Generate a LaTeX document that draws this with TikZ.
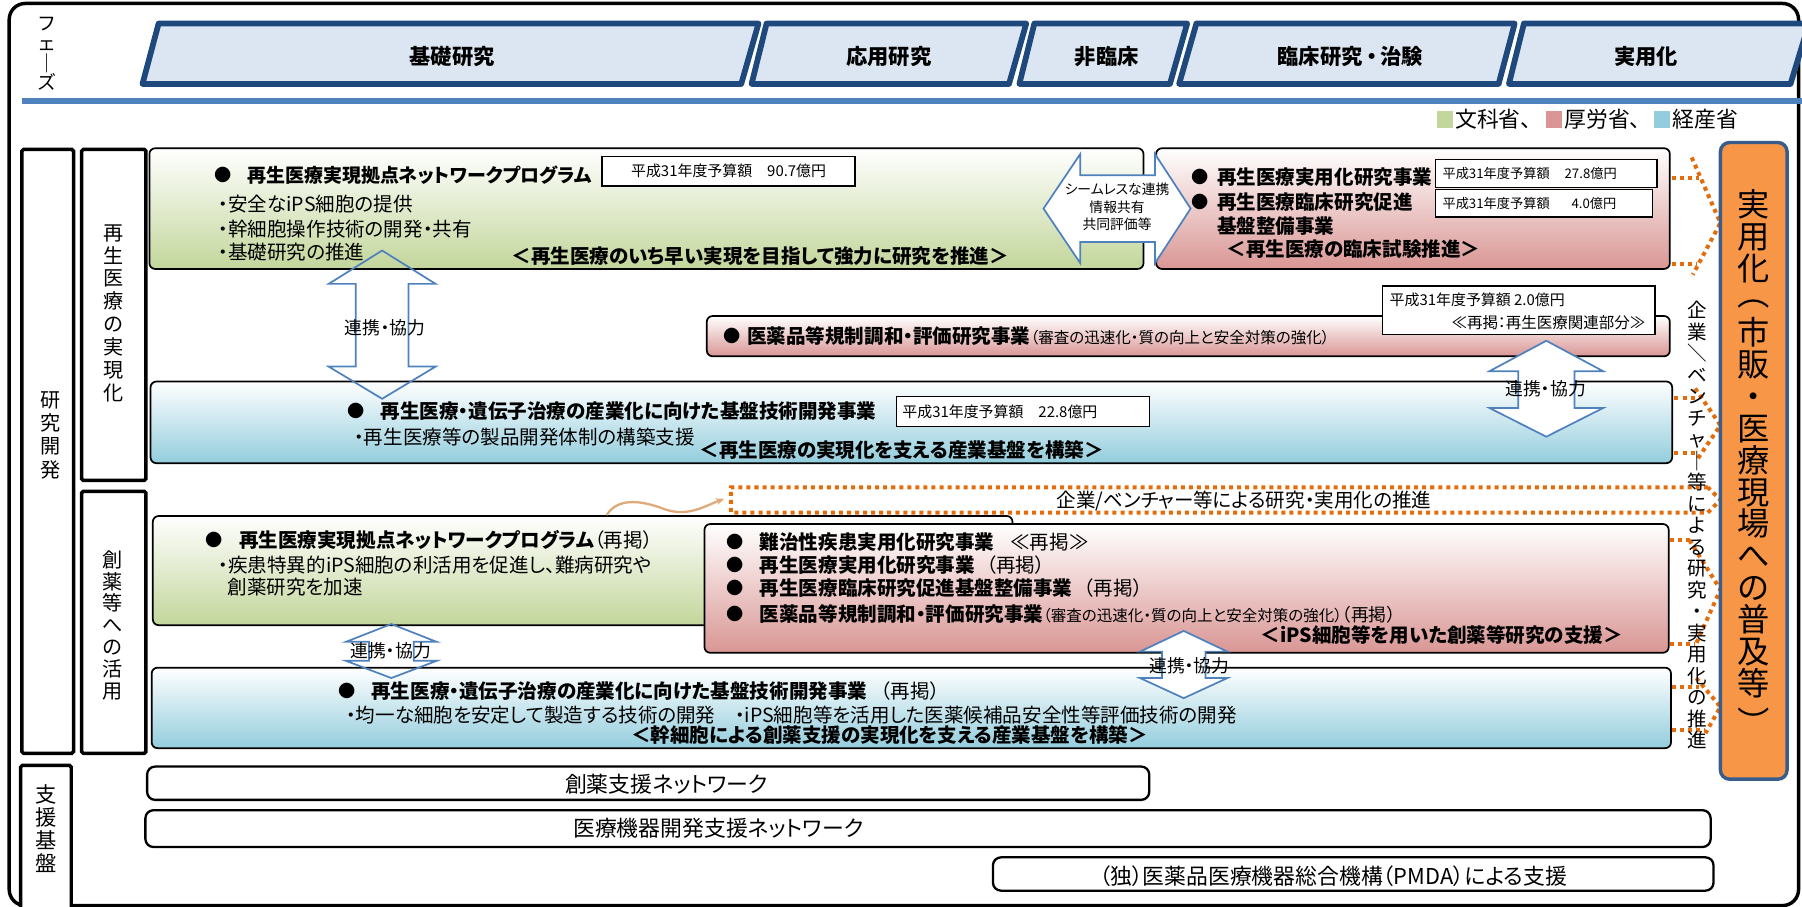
\documentclass[tikz,border=0pt]{standalone}
\usepackage{fontspec}
\usepackage{graphicx}
\setmainfont{Noto Sans CJK JP}[RawFeature=+palt]
\usetikzlibrary{arrows.meta}
\definecolor{phasefill}{HTML}{DCE6F2}
\definecolor{phasedraw}{HTML}{1F497D}
\definecolor{lineblue}{HTML}{4F81BD}
\definecolor{mgreen}{HTML}{C3D69B}
\definecolor{mred}{HTML}{D99694}
\definecolor{mblue}{HTML}{93CDDD}
\definecolor{morange}{HTML}{F79646}
\definecolor{dotorange}{HTML}{E46C0A}
\definecolor{oborder}{HTML}{385D8A}
\definecolor{ribboncol}{HTML}{DFA97A}
\newcommand\fsz[2]{\fontsize{#1}{#2}\selectfont}
\newcommand\vparl{\rotatebox[origin=c]{-90}{（}}
\newcommand\vparr{\rotatebox[origin=c]{-90}{）}}
\newcommand\bxn[6]{\node[#1, inner sep=0pt, minimum width={(#5-#3)*1pt}, minimum height={(#6-#4)*1pt}] (#2) at ({(#3+#5)/2},{(#4+#6)/2}) {};}
\newcommand\vdar[8]{\draw[#1] (#2,#3) -- ({#2+#5},#4) -- ({#2+#6},#4) -- ({#2+#6},#7) -- ({#2+#5},#7) -- (#2,#8) -- ({#2-#5},#7) -- ({#2-#6},#7) -- ({#2-#6},#4) -- ({#2-#5},#4) -- cycle;}
\begin{document}
\begin{tikzpicture}[x=1pt,y=-1pt,
  box/.style={draw=black, line width=1.5pt, rounded corners=5pt},
  gbox/.style={box, top color=white, bottom color=mgreen},
  rbox/.style={box, top color=white, bottom color=mred},
  bbox/.style={box, top color=white, bottom color=mblue},
  budget/.style={draw=black, line width=1.3pt, fill=white},
  support/.style={draw=black, line width=2pt, rounded corners=7pt, fill=white},
  col/.style={draw=black, line width=3pt, rounded corners=1.5pt, fill=white},
  obox/.style={draw=oborder, fill=morange, line width=3pt, rounded corners=8pt},
  phase/.style={draw=phasedraw, fill=phasefill, line width=5pt, line join=round},
  blk/.style={draw=lineblue, line width=1.5pt, line join=miter},
  blkw/.style={blk, fill=white},
  dotline/.style={draw=dotorange, line width=3.5pt, dash pattern=on 3.5pt off 3.5pt},
  txt/.style={inner sep=0pt, anchor=west},
  etxt/.style={inner sep=0pt, anchor=east},
  ctxt/.style={inner sep=0pt},
  bul/.style={inner sep=0pt, font=\fsz{15}{15}},
  tb/.style={font=\fsz{17}{17}\bfseries},
  tr/.style={font=\fsz{17}{17}},
]
\useasboundingbox (0,0) rectangle (1568,789);
% outer frame
\draw[line width=3pt, rounded corners=14pt] (8,3) rectangle (1565,788);
% phases
\draw[phase] (138,20.5) -- (660,20.5) -- (645,73) -- (124,73) -- cycle;
\draw[phase] (667,20.5) -- (893,20.5) -- (878,73) -- (654,73) -- cycle;
\draw[phase] (900,20.5) -- (1033,20.5) -- (1018,73) -- (887,73) -- cycle;
\draw[phase] (1041,20.5) -- (1318,20.5) -- (1304,73) -- (1026,73) -- cycle;
\draw[phase] (1326,20.5) -- (1574,20.5) -- (1558,73) -- (1313,73) -- cycle;
\node[ctxt, font=\fsz{18.5}{18.5}\bfseries] (p1) at (393.5,49) {基礎研究};
\node[ctxt, font=\fsz{18.5}{18.5}\bfseries] (p2) at (773.5,49) {応用研究};
\node[ctxt, font=\fsz{18.5}{18.5}\bfseries] (p3) at (963,49) {非臨床};
\node[ctxt, font=\fsz{18.5}{18.5}\bfseries] (p4) at (1175,49) {臨床研究\,・\,治験};
\node[ctxt, font=\fsz{18.5}{18.5}\bfseries] (p5) at (1432.5,49) {実用化};
\draw[lineblue, line width=5pt] (19,88) -- (1568,88);
\node[ctxt, align=center, font=\fsz{16.5}{17}] (fz) at (41,47) {フ\\ェ\\｜\\ズ};
% legend
\fill[mgreen] (1250,97) rectangle (1264,111);
\node[txt, font=\fsz{19}{19}] (lg1) at (1266,104) {文科省、};
\fill[mred] (1345,97) rectangle (1359,111);
\node[txt, font=\fsz{19}{19}] (lg2) at (1361,104) {厚労省、};
\fill[mblue] (1439,97) rectangle (1453,111);
\node[txt, font=\fsz{19}{19}] (lg3) at (1455,104) {経産省};
% left columns
\bxn{col}{c1}{19}{130}{64}{655.5}
\bxn{col}{c2}{71}{130}{127}{418}
\bxn{col}{c3}{71}{427.5}{127}{655.5}
\bxn{col}{c4}{18}{666}{62}{800}
\node[ctxt, align=center, font=\fsz{17.5}{20.3}] (c1t) at (44,378.5) {研\\究\\開\\発};
\node[ctxt, align=center, font=\fsz{17.5}{19.9}] (c2t) at (99,272.5) {再\\生\\医\\療\\の\\実\\現\\化};
\node[ctxt, align=center, font=\fsz{17.5}{19}] (c3t) at (98,544) {創\\薬\\等\\へ\\の\\活\\用};
\node[ctxt, align=center, font=\fsz{18.5}{20}] (c4t) at (40,721) {支\\援\\基\\盤};
% main boxes
\bxn{gbox}{A}{130}{129}{995}{234}
\bxn{rbox}{B}{1006}{129}{1453}{234}
\bxn{rbox}{C}{615}{275}{1453}{310}
\bxn{bbox}{D}{131}{332}{1455}{403}
\bxn{gbox}{E}{133}{449}{881}{544}
\bxn{rbox}{F}{613}{456}{1452}{568}
\bxn{bbox}{G}{132}{581}{1454}{651}
% budget boxes
\bxn{budget}{bA}{524}{136}{744}{162}
\bxn{budget}{bB1}{1249}{139}{1442}{163}
\bxn{budget}{bB2}{1249}{165}{1438}{189}
\bxn{budget}{bC}{1203}{249}{1440}{291}
\bxn{budget}{bD}{780}{345}{1000}{371}
% support boxes
\bxn{support}{S1}{128}{667}{1000}{696}
\bxn{support}{S2}{126.5}{705}{1488.5}{737}
\bxn{support}{S3}{864}{746}{1491}{775}
% block arrows
\draw[blkw] (908,181.5) -- (940,134) -- (940,152.5) -- (1005,152.5) -- (1005,134) -- (1036,181.5) -- (1005,229) -- (1005,210.5) -- (940,210.5) -- (940,229) -- cycle;
\vdar{blk}{332.5}{218}{247}{46.5}{23}{319}{347}
\vdar{blkw}{1345.5}{296.5}{323}{49.5}{24.5}{355}{380}
\vdar{blk}{340.5}{543}{558.5}{39.5}{19.5}{575}{590}
\vdar{blkw}{1030}{549}{567}{38}{19}{590}{607.5}
\node[ctxt, align=center, font=\fsz{12}{15}] (sh) at (972,180) {シームレスな連携\\情報共有\\共同評価等};
\node[ctxt, font=\fsz{15.5}{15.5}] (r1) at (335,285.5) {連携・協力};
\node[ctxt, font=\fsz{15.5}{15.5}] (r2) at (1345,338) {連携・協力};
\node[ctxt, font=\fsz{15.5}{15.5}] (r3) at (340,566) {連携・協力};
\node[ctxt, font=\fsz{15.5}{15.5}] (r4) at (1035,579) {連携・協力};
% orange dotted connectors
\draw[dotline] (1486,424) -- (636,424) -- (636,446) -- (1486,446) -- (1497,435) -- cycle;
\draw[dotline] (1455,155) -- (1478,155);
\draw[dotline] (1455,230) -- (1477,230);
\draw[dotline] (1472,137) -- (1497,194) -- (1473,239);
\draw[dotline] (1457,346) -- (1478,346);
\draw[dotline] (1457,394) -- (1478,394);
\draw[dotline] (1475,338) -- (1497,370) -- (1476,401);
\draw[dotline] (1453,470) -- (1472,470);
\draw[dotline] (1453,560) -- (1475,560);
\draw[dotline] (1470,470) -- (1497,513) -- (1475,562);
\draw[dotline] (1455,597.5) -- (1478,597.5);
\draw[dotline] (1455,635) -- (1484,635);
\draw[dotline] (1476,590) -- (1497,615) -- (1484,638);
\draw[ribboncol, line width=2pt, -{Stealth[length=7pt,width=6pt]}] (528,448) .. controls (538,432) and (560,436) .. (578,443) .. controls (598,450) and (612,441) .. (630,434);
\node[ctxt, tr] (dt) at (1082.5,436) {企業/ベンチャー等による研究・実用化の推進};
% orange box
\bxn{obox}{O}{1497}{124}{1555}{678}
\node[ctxt, align=center, font=\fsz{28}{27.8}] (Ot) at (1526,399) {実\\用\\化\\\vparl\\市\\販\\・\\医\\療\\現\\場\\へ\\の\\普\\及\\等\\\vparr};
\node[ctxt, align=center, font=\fsz{17}{18.7}] (vt) at (1477,457) {企\\業\\＼\\ベ\\ン\\チ\\ャ\\｜\\等\\に\\よ\\る\\研\\究\\・\\実\\用\\化\\の\\推\\進};
% box A text
\node[bul] (Ab) at (194,152) {●};
\node[txt, font=\fsz{16.5}{16.5}\bfseries] (At) at (215,152) {再生医療実現拠点ネットワークプログラム};
\node[ctxt, font=\fsz{13}{13}] (bAt) at (bA) {平成31年度予算額　90.7億円};
\node[txt, tr] (Al1) at (190,178) {・安全なiPS細胞の提供};
\node[txt, tr] (Al2) at (190,199) {・幹細胞操作技術の開発・共有};
\node[txt, tr] (Al3) at (190,219) {・基礎研究の推進};
\node[ctxt, tb] (Ag) at (661.5,223) {＜再生医療のいち早い実現を目指して強力に研究を推進＞};
% box B text
\node[bul] (Bb1) at (1044,154) {●};
\node[txt, tb] (Bt1) at (1059,154) {再生医療実用化研究事業};
\node[bul] (Bb2) at (1044,175.5) {●};
\node[txt, tb] (Bt2) at (1059,175.5) {再生医療臨床研究促進};
\node[txt, tb] (Bt3) at (1059,197) {基盤整備事業};
\node[txt, tb] (Bg) at (1067,217) {＜再生医療の臨床試験推進＞};
\node[txt, font=\fsz{11.5}{11.5}] (bB1t) at (1255,151) {平成31年度予算額\hspace{13pt}27.8億円};
\node[txt, font=\fsz{11.5}{11.5}] (bB2t) at (1255,177) {平成31年度予算額\hspace{19pt}4.0億円};
% box C text
\node[bul] (Cb) at (637,292) {●};
\node[txt, tb] (Ct) at (650,292) {医薬品等規制調和・評価研究事業{\mdseries\fsz{13.5}{13.5}（審査の迅速化・質の向上と安全対策の強化）}};
\node[txt, font=\fsz{13}{13}] (bCt1) at (1209,261) {平成31年度予算額 2.0億円};
\node[etxt, font=\fsz{13.5}{13.5}] (bCt2) at (1432,281) {≪再掲：再生医療関連部分≫};
% box D text
\node[bul] (Db) at (310,358) {●};
\node[txt, tb] (Dt) at (331,358) {再生医療・遺伝子治療の産業化に向けた基盤技術開発事業};
\node[txt, font=\fsz{13}{13}] (bDt) at (785,358) {平成31年度予算額　22.8億円};
\node[txt, tr] (Dl) at (308,380) {・再生医療等の製品開発体制の構築支援};
\node[ctxt, tb] (Dg) at (784.5,391.5) {＜再生医療の実現化を支える産業基盤を構築＞};
% box E text
\node[bul] (Eb) at (186,470) {●};
\node[txt, tr] (Et) at (208,470) {{\bfseries 再生医療実現拠点ネットワークプログラム}（再掲）};
\node[txt, tr] (El1) at (190,491.5) {・疾患特異的iPS細胞の利活用を促進し、難病研究や};
\node[txt, tr] (El2) at (198,510.5) {創薬研究を加速};
% box F text
\node[bul] (Fb1) at (640,471.5) {●};
\node[bul] (Fb2) at (640,491.5) {●};
\node[bul] (Fb3) at (640,512) {●};
\node[bul] (Fb4) at (640,534) {●};
\node[txt, tr] (Ft1) at (661,471.5) {{\bfseries 難治性疾患実用化研究事業}\hspace{14pt}≪再掲≫};
\node[txt, tr] (Ft2) at (661,491.5) {{\bfseries 再生医療実用化研究事業}\hspace{10pt}（再掲）};
\node[txt, tr] (Ft3) at (661,512) {{\bfseries 再生医療臨床研究促進基盤整備事業}\hspace{10pt}（再掲）};
\node[txt, tr] (Ft4) at (661,534) {{\bfseries 医薬品等規制調和・評価研究事業}{\fsz{13.5}{13.5}（審査の迅速化・質の向上と安全対策の強化）}{\fsz{15.5}{15.5}（再掲）}};
\node[ctxt, tb] (Fg) at (1254.5,552.5) {＜iPS細胞等を用いた創薬等研究の支援＞};
% box G text
\node[bul] (Gb) at (302,601) {●};
\node[txt, tr] (Gt) at (323,601) {{\bfseries 再生医療・遺伝子治療の産業化に向けた基盤技術開発事業}\hspace{12pt}（再掲）};
\node[txt, tr] (Gl) at (301,622) {・均一な細胞を安定して製造する技術の開発　・iPS細胞等を活用した医薬候補品安全性等評価技術の開発};
\node[ctxt, tb] (Gg) at (774,639.5) {＜幹細胞による創薬支援の実現化を支える産業基盤を構築＞};
% support texts
\node[ctxt, font=\fsz{19}{19}] (S1t) at (580,682) {創薬支援ネットワーク};
\node[ctxt, font=\fsz{19}{19}] (S2t) at (625,721) {医療機器開発支援ネットワーク};
\node[ctxt, font=\fsz{19}{19}] (S3t) at (1160,762) {（独）医薬品医療機器総合機構（PMDA）による支援};
\end{tikzpicture}
\end{document}
